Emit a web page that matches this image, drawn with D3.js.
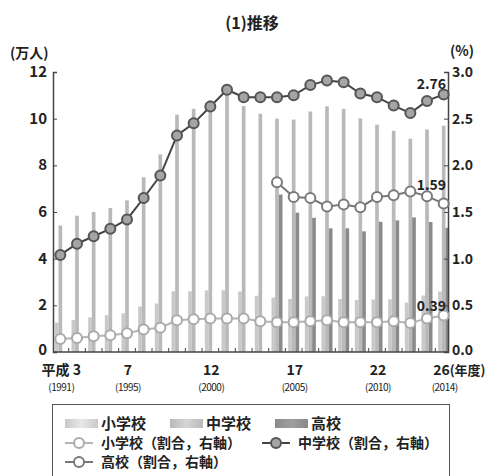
<!DOCTYPE html>
<html>
<head>
<meta charset="utf-8">
<script src="https://cdn.jsdelivr.net/npm/d3@7"></script>
<style>
  html, body { margin: 0; padding: 0; background: #fff; }
  svg { display: block; }
  text { font-family: "Noto Sans CJK JP", "Noto Sans", sans-serif; fill: #222; }
</style>
</head>
<body>
<svg id="chart" width="490" height="476"></svg>
<script>
// 不登校児童生徒数（万人）と割合（%） 平成3〜26年度
const years = d3.range(1991, 2015);
const elemCount = [1.26, 1.37, 1.48, 1.58, 1.66, 1.95, 2.08, 2.60, 2.60, 2.64, 2.65, 2.59, 2.41, 2.33, 2.27, 2.38, 2.39, 2.27, 2.23, 2.25, 2.26, 2.12, 2.42, 2.59];
const juniorCount = [5.42, 5.84, 6.00, 6.17, 6.50, 7.49, 8.47, 10.17, 10.42, 10.79, 11.22, 10.54, 10.21, 10.00, 9.96, 10.31, 10.53, 10.42, 10.01, 9.74, 9.48, 9.14, 9.54, 9.70];
const highCount = [null, null, null, null, null, null, null, null, null, null, null, null, null, 6.75, 5.97, 5.75, 5.30, 5.30, 5.17, 5.58, 5.64, 5.77, 5.57, 5.32];
const elemRate = [0.14, 0.15, 0.17, 0.18, 0.20, 0.24, 0.26, 0.34, 0.35, 0.36, 0.36, 0.36, 0.33, 0.32, 0.32, 0.33, 0.34, 0.32, 0.32, 0.32, 0.33, 0.31, 0.36, 0.39];
const juniorRate = [1.04, 1.16, 1.24, 1.32, 1.42, 1.65, 1.89, 2.32, 2.45, 2.63, 2.81, 2.73, 2.73, 2.73, 2.75, 2.86, 2.91, 2.89, 2.77, 2.73, 2.64, 2.56, 2.69, 2.76];
const highRate = [null, null, null, null, null, null, null, null, null, null, null, null, null, 1.82, 1.66, 1.65, 1.56, 1.58, 1.55, 1.66, 1.68, 1.72, 1.67, 1.59];

const leftTicks = [0, 2, 4, 6, 8, 10, 12];
const rightTicks = [0, 0.5, 1.0, 1.5, 2.0, 2.5, 3.0];
const xLabels = [
  { year: 1991, main: "平成 3", sub: "(1991)" },
  { year: 1995, main: "7", sub: "(1995)" },
  { year: 2000, main: "12", sub: "(2000)" },
  { year: 2005, main: "17", sub: "(2005)" },
  { year: 2010, main: "22", sub: "(2010)" },
  { year: 2014, main: "26", sub: "(2014)" }
];
const barSeries = ["小学校", "中学校", "高校"];
const barColors = ["#c9c9c9", "#b9b9b9", "#8a8a8a"];
const barData = [elemCount, juniorCount, highCount];

const svg = d3.select("#chart");
const plot = { left: 53, right: 448, top: 72, bottom: 352 };

const x = d3.scaleBand().domain(years).range([52, 452]).padding(0);
const yL = d3.scaleLinear().domain([0, 12]).range([plot.bottom, plot.top]);
const yR = d3.scaleLinear().domain([0, 3]).range([plot.bottom, plot.top]);
const sub = d3.scaleBand().domain(barSeries).range([-5.5, 5.5]);
const cx = d => x(d) + x.bandwidth() / 2;

// title and axis units
svg.append("text").attr("x", 252).attr("y", 29).attr("text-anchor", "middle")
  .attr("font-size", 16).attr("font-weight", 700).text("(1)推移");
svg.append("text").attr("x", 10).attr("y", 58).attr("font-size", 14).attr("font-weight", 700).text("(万人)");
svg.append("text").attr("x", 450).attr("y", 56).attr("font-size", 14).attr("font-weight", 700).text("(%)");

// bars
barSeries.forEach((s, si) => {
  const vals = barData[si];
  svg.append("g").selectAll("rect")
    .data(years.map((yr, i) => ({ yr, v: vals[i] })).filter(d => d.v != null))
    .join("rect")
    .attr("x", d => cx(d.yr) + sub(s))
    .attr("width", sub.bandwidth())
    .attr("y", d => yL(d.v))
    .attr("height", d => yL(0) - yL(d.v))
    .attr("fill", barColors[si]);
});

// axes
const axL = svg.append("g").attr("transform", `translate(${plot.left},0)`)
  .call(d3.axisRight(yL).tickValues(leftTicks).tickSize(4).tickFormat(""));
const axR = svg.append("g").attr("transform", `translate(${plot.right},0)`)
  .call(d3.axisLeft(yR).tickValues(rightTicks).tickSize(4).tickFormat(""));
const boundaries = years.slice(1).map(d => x(d));
const axB = svg.append("g").attr("transform", `translate(0,${plot.bottom})`);
axB.append("line").attr("x1", plot.left).attr("x2", plot.right).attr("stroke", "#444").attr("stroke-width", 1.5);
axB.selectAll("line.t").data(boundaries).join("line").attr("class", "t")
  .attr("x1", d => d).attr("x2", d => d).attr("y1", 0).attr("y2", -4)
  .attr("stroke", "#444");
[axL, axR].forEach(a => {
  a.select(".domain").attr("stroke", "#444").attr("stroke-width", 1.5);
  a.selectAll(".tick line").attr("stroke", "#444");
});

svg.append("g").selectAll("text").data(leftTicks).join("text")
  .attr("x", 47).attr("y", d => yL(d) + (d === 0 ? 3 : 5)).attr("text-anchor", "end")
  .attr("font-size", 15).attr("font-weight", 700).text(d => d);
svg.append("g").selectAll("text").data(rightTicks).join("text")
  .attr("x", 452).attr("y", d => yR(d) + (d === 0 ? 3 : 5))
  .attr("font-size", 14).attr("font-weight", 700).text(d => d.toFixed(1));

// x labels
const xl = svg.append("g");
xl.selectAll("text.m").data(xLabels).join("text").attr("class", "m")
  .attr("x", d => d.year === 2014 ? cx(d.year) + 6 : cx(d.year) + 1)
  .attr("y", 375).attr("text-anchor", d => d.year === 2014 ? "end" : "middle")
  .attr("font-size", 14).attr("font-weight", 700).text(d => d.main);
xl.append("text").attr("x", cx(2014) + 6).attr("y", 375)
  .attr("font-size", 13).attr("font-weight", 700).text("(年度)");
xl.selectAll("text.s").data(xLabels).join("text").attr("class", "s")
  .attr("x", d => cx(d.year) + 1).attr("y", 391).attr("text-anchor", "middle")
  .attr("font-size", 10).attr("letter-spacing", -0.5).text(d => d.sub);

// rate lines (right axis)
const lineStyles = [
  { name: "小学校", vals: elemRate, stroke: "#b4b4b4", fill: "#fff", cstroke: "#aaa" },
  { name: "高校", vals: highRate, stroke: "#777", fill: "#fff", cstroke: "#7a7a7a" },
  { name: "中学校", vals: juniorRate, stroke: "#444", fill: "#a5a5a5", cstroke: "#555" }
];
const line = d3.line().defined(d => d.v != null).x(d => cx(d.yr)).y(d => yR(d.v));
lineStyles.forEach(ls => {
  const pts = years.map((yr, i) => ({ yr, v: ls.vals[i] }));
  const g = svg.append("g");
  g.append("path").datum(pts).attr("d", line).attr("fill", "none")
    .attr("stroke", ls.stroke).attr("stroke-width", 2);
  g.selectAll("circle").data(pts.filter(d => d.v != null)).join("circle")
    .attr("cx", d => cx(d.yr)).attr("cy", d => yR(d.v)).attr("r", 5)
    .attr("fill", ls.fill).attr("stroke", ls.cstroke).attr("stroke-width", 2);
});

// end-value labels
const lastIdx = years.length - 1;
[[juniorRate, 89], [highRate, 190], [elemRate, 311]].forEach(([vals, yy]) => {
  svg.append("text").attr("x", 446).attr("y", yy).attr("text-anchor", "end")
    .attr("font-size", 14).attr("font-weight", 700).text(vals[lastIdx].toFixed(2));
});

// legend
const lg = svg.append("g");
lg.append("rect").attr("x", 52.5).attr("y", 404.5).attr("width", 397).attr("height", 90)
  .attr("fill", "none").attr("stroke", "#555");
const defs = svg.append("defs");
barColors.forEach((c, i) => {
  const gr = defs.append("linearGradient").attr("id", "sw" + i);
  gr.append("stop").attr("offset", "0%").attr("stop-color", c);
  gr.append("stop").attr("offset", "50%").attr("stop-color", d3.color(c).brighter(0.4));
  gr.append("stop").attr("offset", "100%").attr("stop-color", c);
});
const swX = [65, 170, 275];
barSeries.forEach((s, i) => {
  lg.append("rect").attr("x", swX[i]).attr("y", 419).attr("width", 33).attr("height", 9)
    .attr("fill", `url(#sw${i})`);
  lg.append("text").attr("x", swX[i] + 36).attr("y", 429).attr("font-size", 15)
    .attr("font-weight", 700).text(s);
});
const legLines = [
  { ls: lineStyles[0], x: 65, y: 443, label: "小学校（割合，右軸）" },
  { ls: lineStyles[2], x: 262, y: 443, label: "中学校（割合，右軸）" },
  { ls: lineStyles[1], x: 65, y: 462, label: "高校（割合，右軸）" }
];
legLines.forEach(d => {
  lg.append("line").attr("x1", d.x).attr("x2", d.x + 28).attr("y1", d.y).attr("y2", d.y)
    .attr("stroke", d.ls.stroke).attr("stroke-width", 2);
  lg.append("circle").attr("cx", d.x + 14).attr("cy", d.y).attr("r", 5)
    .attr("fill", d.ls.fill).attr("stroke", d.ls.cstroke).attr("stroke-width", 2);
  lg.append("text").attr("x", d.x + 36).attr("y", d.y + 5).attr("font-size", 14)
    .attr("font-weight", 700).text(d.label);
});
</script>
</body>
</html>
